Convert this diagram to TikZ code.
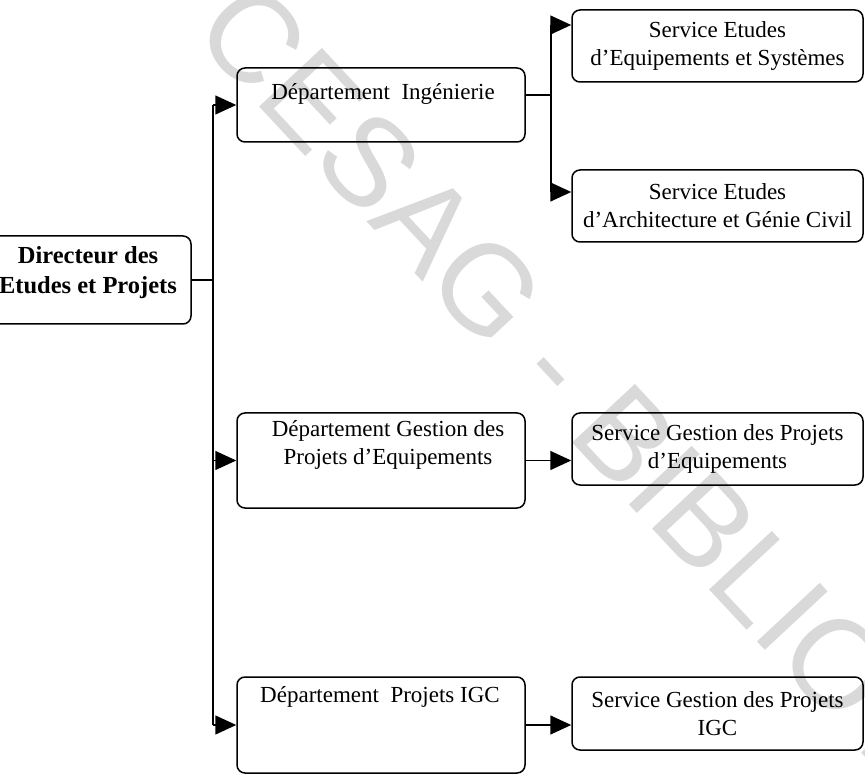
\documentclass[tikz,border=0pt]{standalone}
\usepackage{fontspec}
\usetikzlibrary{arrows.meta}
\setmainfont{Liberation Serif}
\newfontfamily\wmfont{Liberation Sans}
\begin{document}
\begin{tikzpicture}[x=1pt,y=-1pt,
  box/.style={draw, line width=1.5pt, rounded corners=8pt, inner sep=0pt},
  txt/.style={font=\fontsize{23}{28}\selectfont, align=center, inner sep=0pt},
  boldtxt/.style={font=\bfseries\fontsize{24.5}{30}\selectfont, align=center, inner sep=0pt},
  wm/.style={font=\wmfont\fontsize{125}{125}\selectfont, text=black!15, inner sep=0pt},
  link/.style={line width=1.5pt},
  arr/.style={line width=1.5pt, -{Triangle[length=21pt,width=19pt]}},
]
\useasboundingbox (0,0) rectangle (865,775);
\clip (0,0) rectangle (865,775);

% library stamp across the sheet
\node[wm, anchor=west, rotate=-47] (stamp) at (214,12) {CESAG - BIBLIOTHEQUE};

% director
\node[box, minimum width=206pt, minimum height=88pt] (dir) at (88,280) {};
\node[boldtxt] (dirt) at (88,273) {Directeur des\\Etudes et Projets};

% departments
\node[box, minimum width=288pt, minimum height=74pt] (ding) at (381,105) {};
\node[txt] (dingt) at (383,94) {Département\hspace{0.5em}Ingénierie};

\node[box, minimum width=288pt, minimum height=95pt] (dgest) at (381,460.5) {};
\node[txt] (dgestt) at (388,445) {Département Gestion des\\Projets d’Equipements};

\node[box, minimum width=288pt, minimum height=96pt] (digc) at (381,725) {};
\node[txt] (digct) at (380,697) {Département\hspace{0.5em}Projets IGC};

% services
\node[box, txt, minimum width=291pt, minimum height=72pt] (s1) at (717.5,46) {Service Etudes\\d’Equipements et Systèmes};
\node[box, txt, minimum width=291pt, minimum height=72pt] (s2) at (717.5,206) {Service Etudes\\d’Architecture et Génie Civil};
\node[box, txt, minimum width=291pt, minimum height=72pt] (sgest) at (717.5,449) {Service Gestion des Projets\\d’Equipements};
\node[box, txt, minimum width=291pt, minimum height=73pt] (sigc) at (717.5,713.5) {Service Gestion des Projets\\IGC};

% trunk from the director to the departments
\coordinate (tx) at (213,0);
\draw[link] (dir.east) -- (dir.east -| tx);
\draw[link] (ding.west -| tx) -- (digc.west -| tx);
\draw[arr] (ding.west -| tx) -- (ding.west);
\draw[arr] (dgest.west -| tx) -- (dgest.west);
\draw[arr] (digc.west -| tx) -- (digc.west);

% branch from engineering to its two services
\coordinate (bj) at (551,95);
\coordinate (bt) at (551,25);
\coordinate (bb) at (551,192);
\draw[link] (bj -| ding.east) -- (bj);
\draw[link] (bt) -- (bb);
\draw[arr] (bt) -- (bt -| s1.west);
\draw[arr] (bb) -- (bb -| s2.west);

% departments to their services
\draw[arr] (dgest.east) -- (dgest.east -| sgest.west);
\draw[arr] (digc.east) -- (digc.east -| sigc.west);
\end{tikzpicture}
\end{document}
